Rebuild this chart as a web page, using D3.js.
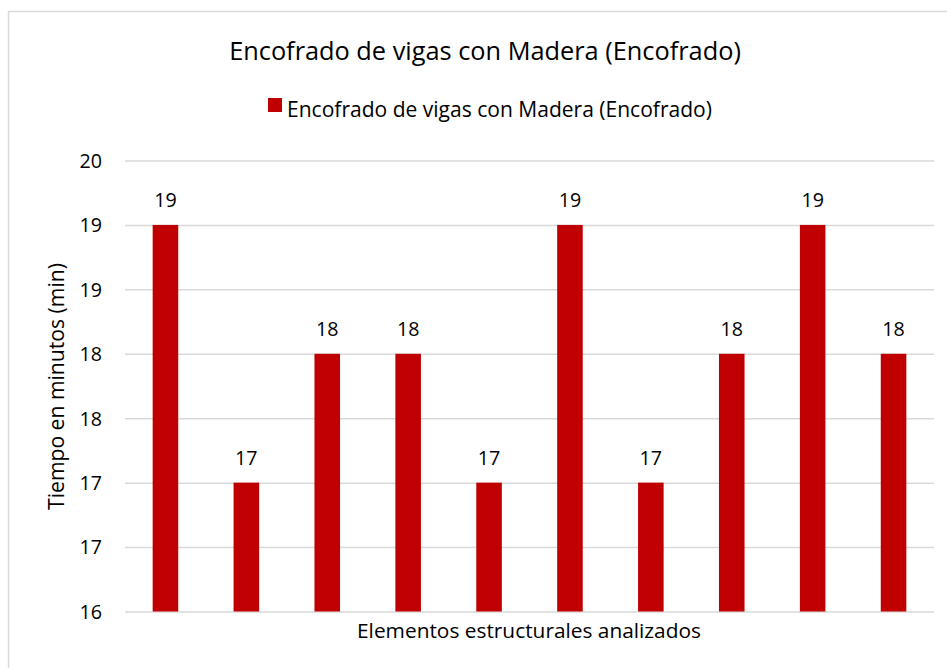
<!DOCTYPE html>
<html><head><meta charset="utf-8">
<script src="https://cdn.jsdelivr.net/npm/d3@7"></script>
<style>body{margin:0;background:#fff;} svg{display:block;}</style>
</head><body>
<script>
const categories = ["1","2","3","4","5","6","7","8","9","10"];
const values = [19, 17, 18, 18, 17, 19, 17, 18, 19, 18];
const valueLabels = ["19","17","18","18","17","19","17","18","19","18"];
const tickValues = [16, 16.5, 17, 17.5, 18, 18.5, 19, 19.5];
const tickLabels = ["16","17","17","18","18","19","19","20"];
const titleText = "Encofrado de vigas con Madera (Encofrado)";
const seriesName = "Encofrado de vigas con Madera (Encofrado)";
const xTitle = "Elementos estructurales analizados";
const yTitle = "Tiempo en minutos (min)";

const W = 947, H = 668;
const font = "'Open Sans', 'Noto Sans', sans-serif";
const svg = d3.select("body").append("svg").attr("width", W).attr("height", H);
svg.append("rect").attr("x", 8.5).attr("y", 11.5).attr("width", 950).attr("height", 670)
  .attr("fill", "#fff").attr("stroke", "#d9d9d9").attr("stroke-width", 1.5);

// fit a text element's font size so its width matches a target width
function fit(sel, target) {
  const n = sel.node();
  const s = +sel.attr("font-size");
  const w = n.getComputedTextLength();
  sel.attr("font-size", (s * target / w).toFixed(2));
}

const x = d3.scaleBand().domain(categories).range([125, 934]).paddingInner(0.684).paddingOuter(0.342);
const y = d3.scaleLinear().domain([16, 19.5]).range([611.5, 160.5]);

// probe digit size so "19" is ~22.5px wide
const probe = svg.append("text").attr("font-family", font).attr("font-size", 20).text("19");
fit(probe, 22.5);
const numSize = +probe.attr("font-size");
probe.remove();

const yAxis = d3.axisLeft(y).tickValues(tickValues).tickSize(-(934 - 125))
  .tickFormat((d, i) => tickLabels[i]).tickPadding(23);
const gy = svg.append("g").attr("transform", "translate(125,0)").call(yAxis);
gy.select(".domain").remove();
gy.selectAll(".tick line").attr("stroke", "#d9d9d9").attr("stroke-width", 1.5);
gy.selectAll(".tick text").attr("font-family", font).attr("font-size", numSize).attr("fill", "#000")
  .attr("dy", "0.35em");

svg.append("g").selectAll("rect").data(values).join("rect")
  .attr("x", (d, i) => x(categories[i])).attr("width", x.bandwidth())
  .attr("y", d => y(d)).attr("height", d => y(16) - y(d)).attr("fill", "#c00000");

svg.append("g").selectAll("text").data(values).join("text")
  .attr("x", (d, i) => x(categories[i]) + x.bandwidth() / 2).attr("y", d => y(d) - 18)
  .attr("text-anchor", "middle").attr("font-family", font).attr("font-size", numSize).attr("fill", "#000")
  .text((d, i) => valueLabels[i]);

const t = svg.append("text").attr("x", 485).attr("y", 60).attr("text-anchor", "middle")
  .attr("font-family", font).attr("font-size", 22).attr("fill", "#000").text(titleText);
fit(t, 512);

const lg = svg.append("g");
lg.append("rect").attr("x", 268).attr("y", 98).attr("width", 14).attr("height", 14).attr("fill", "#c00000");
const lt = lg.append("text").attr("x", 287).attr("y", 117).attr("font-family", font).attr("font-size", 18)
  .attr("fill", "#000").text(seriesName);
fit(lt, 425);

const xt = svg.append("text").attr("x", 529).attr("y", 638).attr("text-anchor", "middle")
  .attr("font-family", font).attr("font-size", 18).attr("fill", "#000").text(xTitle);
fit(xt, 344);

const yt = svg.append("text").attr("transform", "translate(64,386.5) rotate(-90)").attr("text-anchor", "middle")
  .attr("font-family", font).attr("font-size", 18).attr("fill", "#000").text(yTitle);
fit(yt, 247);
</script>
</body></html>
